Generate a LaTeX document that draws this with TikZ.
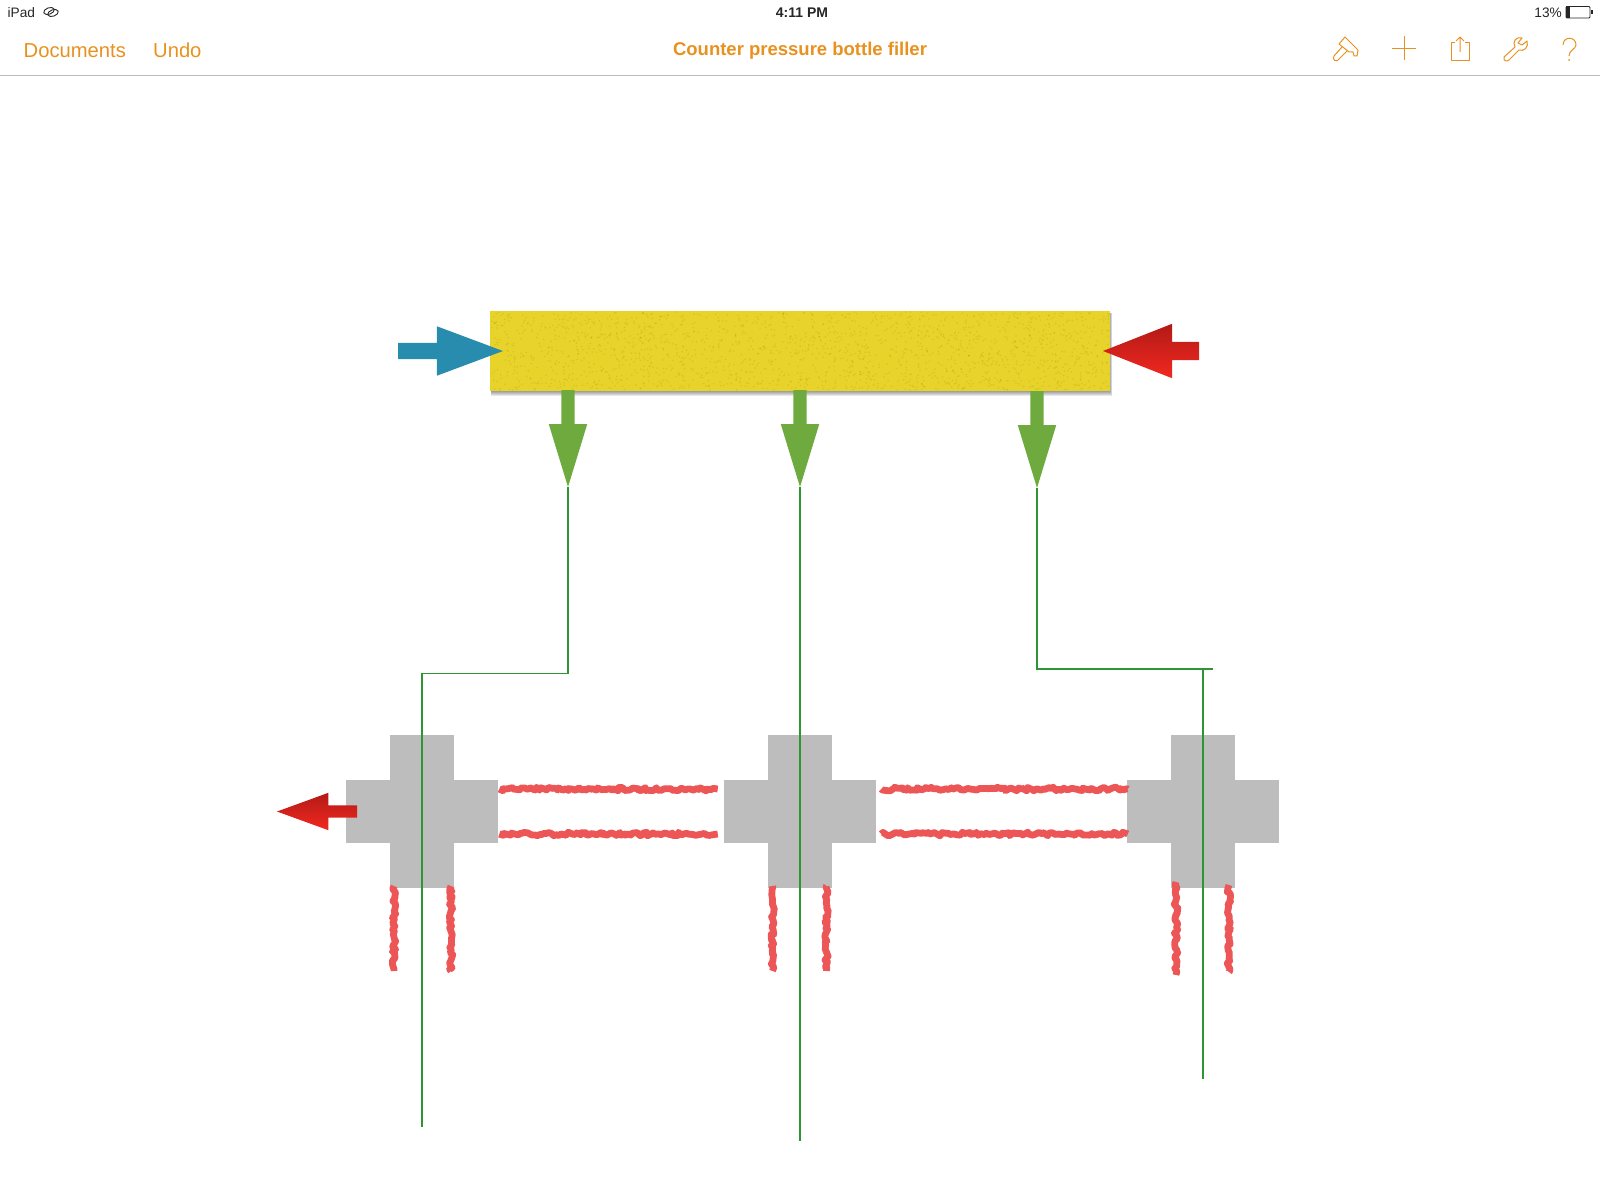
\documentclass[tikz,border=0pt]{standalone}
\usepackage{fontspec}
\setmainfont{Liberation Sans}
\usetikzlibrary{shapes.arrows,decorations.pathmorphing}
\definecolor{barOrange}{RGB}{232,145,30}
\definecolor{boxYellow}{RGB}{232,211,42}
\definecolor{inBlue}{RGB}{40,140,175}
\definecolor{feedGreen}{RGB}{110,170,62}
\definecolor{pipeGreen}{RGB}{45,150,50}
\definecolor{crossGray}{RGB}{189,189,189}
\definecolor{tubeRed}{RGB}{236,86,86}
\definecolor{ventDark}{RGB}{178,26,22}
\definecolor{ventLight}{RGB}{242,40,32}
\begin{document}
\begin{tikzpicture}[x=1pt, y=-1pt,
    arrowStyle/.style={single arrow, outer sep=0pt, single arrow head indent=0pt},
    blueArrow/.style={arrowStyle, fill=inBlue, inner sep=8pt, single arrow head extend=16.5pt, minimum width=49pt, minimum height=105pt, single arrow tip angle=41, shape border rotate=0, anchor=tip},
    ventArrow/.style={arrowStyle, top color=ventDark, bottom color=ventLight, shape border rotate=180, anchor=tip},
    greenArrow/.style={arrowStyle, fill=feedGreen, inner sep=6.5pt, single arrow head extend=12.5pt, minimum width=38pt, minimum height=97pt, single arrow tip angle=34, shape border rotate=270, anchor=tip},
    crossStyle/.style={rectangle, fill=crossGray, inner sep=0pt, outer sep=0pt},
    crossV/.style={crossStyle, minimum width=64pt, minimum height=153pt},
    crossH/.style={crossStyle, minimum width=152.5pt, minimum height=63pt},
    pipeStyle/.style={draw=pipeGreen, line width=1.5pt},
    tubeStyle/.style={draw=tubeRed, line width=6.8pt, line join=round, decorate, decoration={random steps, segment length=2.5pt, amplitude=1.8pt}},
    barText/.style={text=barOrange, inner sep=0pt, anchor=base west, font=\fontsize{20.2}{24}\selectfont},
    statusText/.style={text=black!85, inner sep=0pt, font=\fontsize{13.7}{16}\selectfont},
    iconStyle/.style={draw=barOrange, line width=1pt, line join=round}]
    \useasboundingbox (0,0) rectangle (1600,1199);

    % top bar
    \node[statusText, anchor=base west] (ipad) at (7.5,18) {iPad};
    \node[statusText, anchor=base, font=\bfseries\fontsize{14}{16}\selectfont] (clock) at (802,18) {4:11 PM};
    \node[statusText, anchor=base east] (percent) at (1562,18) {13\%};
    \node[barText] (documents) at (23.5,57) {Documents};
    \node[barText] (undo) at (153,57) {Undo};
    \node[barText, anchor=base, font=\bfseries\fontsize{18.5}{24}\selectfont] (title) at (800,56) {Counter pressure bottle filler};
    \draw[crossGray, line width=1.5pt] (0,75.5) -- (1600,75.5);

    % sync mark next to the device name
    \draw[black!85, line width=0.9pt, rotate around={20:(49,11)}] (49,11) ellipse (5.5pt and 3.2pt);
    \draw[black!85, line width=0.9pt, rotate around={20:(53,13)}] (53,13) ellipse (5.5pt and 3.2pt);

    % battery
    \draw[black!85, line width=0.8pt, rounded corners=1pt] (1566,6.5) rectangle (1590,18);
    \fill[black!85] (1566,6.5) rectangle (1570,18);
    \fill[black!85] (1591,10.5) rectangle (1592.5,14.5);

    % paint tool
    \draw[iconStyle] (1345,37) -- (1358,50) -- (1357,56) -- (1354,56) -- (1353,52) -- (1349,52) -- (1339,44) -- cycle;
    \draw[iconStyle] (1342,47) -- (1334,56) .. controls (1332,60) and (1336,62) .. (1338,60) -- (1347,51);
    % add
    \draw[iconStyle] (1392,48.3) -- (1416,48.3) (1404,36) -- (1404,60);
    % share
    \draw[iconStyle] (1455,43) -- (1451,43) -- (1451,61) -- (1469,61) -- (1469,43) -- (1465,43);
    \draw[iconStyle] (1460,52) -- (1460,37) (1456,41) -- (1460,37) -- (1464,41);
    % wrench
    \draw[iconStyle] (1522,38) .. controls (1516,36) and (1512,42) .. (1515,47) -- (1504,57) .. controls (1503,61) and (1507,62) .. (1509,60) -- (1519,50) .. controls (1524,52) and (1529,47) .. (1527,41) -- (1522,45) -- (1518,43) -- cycle;
    % help
    \draw[iconStyle] (1563,45) .. controls (1563,36) and (1576,36) .. (1576,45) .. controls (1576,49) and (1569,50) .. (1569,56);
    \fill[barOrange] (1569,60) circle (1pt);

    % header with its inlet, outlet and feeds
    \foreach \off in {1,...,5}
        \fill[black, opacity=0.09] (490.5,313) rectangle (1109.5+0.5*\off,391+\off);
    \node[rectangle, fill=boxYellow, inner sep=0pt, outer sep=0pt, minimum width=620pt, minimum height=80pt] (header) at (800,351) {};
    \pgfmathsetseed{17}
    \foreach \i in {1,...,1800} {
        \pgfmathsetmacro{\spotx}{491+rnd*618}
        \pgfmathsetmacro{\spoty}{312+rnd*78}
        \fill[black!70!boxYellow, opacity=0.1] (\spotx,\spoty) circle (0.9pt);
    }
    \node[blueArrow] (inletArrow) at (503,351) {};
    \node[ventArrow, inner sep=9pt, single arrow head extend=18pt, minimum width=54pt, minimum height=96pt, single arrow tip angle=43] (outletArrow) at (1103,351) {};
    \node[greenArrow] (feedA) at (568,487) {};
    \node[greenArrow] (feedB) at (800,487) {};
    \node[greenArrow] (feedC) at (1037,488) {};

    % filler heads
    \node[crossV] (crossA_V) at (422,811.5) {};
    \node[crossH] (crossA_H) at (422,811.5) {};
    \node[crossV] (crossB_V) at (800,811.5) {};
    \node[crossH] (crossB_H) at (800,811.5) {};
    \node[crossV] (crossC_V) at (1203,811.5) {};
    \node[crossH] (crossC_H) at (1203,811.5) {};
    \node[ventArrow, inner sep=6pt, single arrow head extend=12.5pt, minimum width=37pt, minimum height=80pt, single arrow tip angle=40] (ventArrow) at (277,811.5) {};

    % tubes between the heads
    \draw[tubeStyle] ([xshift=1pt,yshift=22.5pt]crossA_H.east) -- ([xshift=-6pt,yshift=22.5pt]crossB_H.west);
    \draw[tubeStyle] ([xshift=1pt,yshift=-22.5pt]crossA_H.east) -- ([xshift=-6pt,yshift=-22.5pt]crossB_H.west);
    \draw[tubeStyle] ([xshift=5pt,yshift=22.5pt]crossB_H.east) -- ([xshift=1pt,yshift=22.5pt]crossC_H.west);
    \draw[tubeStyle] ([xshift=5pt,yshift=-22.5pt]crossB_H.east) -- ([xshift=1pt,yshift=-22.5pt]crossC_H.west);

    % tubes below the heads
    \coordinate (tubeA_L) at (394,971);
    \coordinate (tubeA_R) at (451,971);
    \coordinate (tubeB_L) at (772.5,971);
    \coordinate (tubeB_R) at (826.5,971);
    \coordinate (tubeC_L) at (1176,975);
    \coordinate (tubeC_R) at (1229,972);
    \draw[tubeStyle] ([xshift=-28pt,yshift=2pt]crossA_V.south) -- (tubeA_L);
    \draw[tubeStyle] ([xshift=29pt,yshift=2pt]crossA_V.south) -- (tubeA_R);
    \draw[tubeStyle] ([xshift=-27.5pt,yshift=2pt]crossB_V.south) -- (tubeB_L);
    \draw[tubeStyle] ([xshift=26.5pt,yshift=2pt]crossB_V.south) -- (tubeB_R);
    \draw[tubeStyle] ([xshift=-27pt,yshift=6pt]crossC_V.south) -- (tubeC_L);
    \draw[tubeStyle] ([xshift=26pt,yshift=3pt]crossC_V.south) -- (tubeC_R);

    % feed lines
    \coordinate (pipeA_turn) at (568,673.5);
    \coordinate (pipeA_end) at (422,1126.5);
    \coordinate (pipeB_end) at (800,1141);
    \coordinate (pipeC_turn) at (1037,669);
    \coordinate (pipeC_stub) at (1213,669);
    \coordinate (pipeC_end) at (1203,1078.5);
    \draw[pipeStyle] (feedA.tip) -- (pipeA_turn) -| (pipeA_end);
    \draw[pipeStyle] (feedB.tip) -- (pipeB_end);
    \draw[pipeStyle] (feedC.tip) -- (pipeC_turn) -- (pipeC_stub);
    \draw[pipeStyle] (pipeC_end |- pipeC_turn) -- (pipeC_end);
\end{tikzpicture}
\end{document}
